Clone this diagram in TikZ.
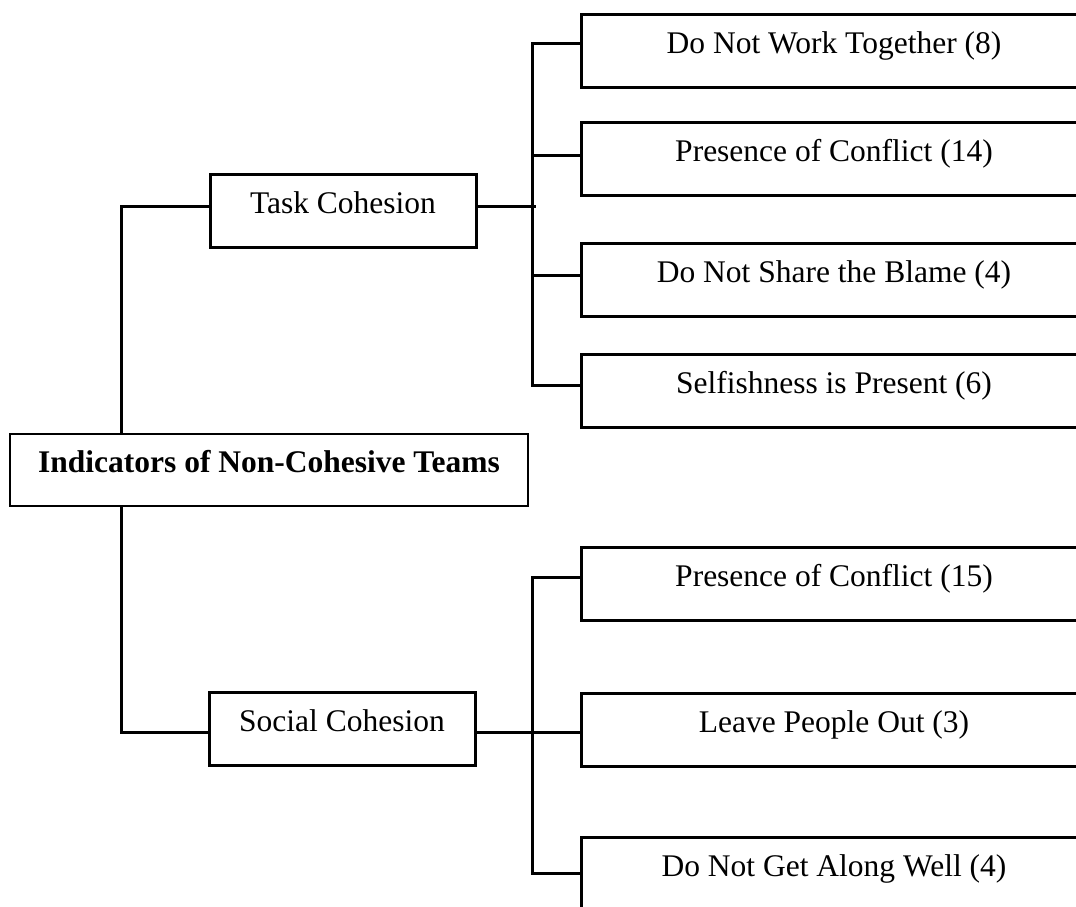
\documentclass[tikz,border=0pt]{standalone}
\usepackage{fontspec}
\setmainfont{Liberation Serif}
\begin{document}
\begin{tikzpicture}[x=1pt,y=-1pt,
  every node/.style={font=\fontsize{31.5}{38}\selectfont, text height=22pt, text depth=17pt},
  box/.style={draw, line width=3pt, rectangle, inner sep=0pt, minimum height=73pt},
  rootbox/.style={draw, line width=1.5pt, rectangle, inner sep=0pt, minimum height=72pt, minimum width=518pt, font=\fontsize{31.5}{38}\selectfont\bfseries},
  midbox/.style={box, minimum width=266pt},
  leafbox/.style={box, minimum width=506pt},
  conn/.style={line width=3pt}]
\useasboundingbox (0,0) rectangle (1076,906);
\clip (0,0) rectangle (1076,906);
\fill[white] (0,0) rectangle (1076,906);
% nodes
\node[rootbox] (root) at (269,470) {Indicators of Non-Cohesive Teams};
\node[midbox] (task) at (343,210.5) {Task Cohesion};
\node[midbox] (social) at (342,728.5) {Social Cohesion};
\node[leafbox] (b1) at (834,50.5) {Do Not Work Together (8)};
\node[leafbox] (b2) at (834,158.5) {Presence of Conflict (14)};
\node[leafbox] (b3) at (834,279.5) {Do Not Share the Blame (4)};
\node[leafbox] (b4) at (834,390.5) {Selfishness is Present (6)};
\node[leafbox] (b5) at (834,583.5) {Presence of Conflict (15)};
\node[leafbox] (b6) at (834,729.5) {Leave People Out (3)};
\node[leafbox] (b7) at (834,873.5) {Do Not Get Along Well (4)};
% connectors from root
\draw[conn] ([xshift=-148pt]root.north) |- ([yshift=4.5pt]task.west);
\draw[conn] ([xshift=-148pt]root.south) |- ([yshift=-3.5pt]social.west);
% task branches
\draw[conn] ([yshift=4.5pt]task.east) -- ++(58,0);
\draw[conn] ([yshift=7.5pt]b1.west) -- ++(-47,0) |- ([yshift=5.5pt]b4.west);
\draw[conn] ([yshift=3.5pt]b2.west) -- ++(-47,0);
\draw[conn] ([yshift=4.5pt]b3.west) -- ++(-47,0);
% social branches
\draw[conn] ([yshift=-3.5pt]social.east) -- ([yshift=-3.5pt]social.east -| b6.west);
\draw[conn] ([yshift=6.5pt]b5.west) -- ++(-47,0) |- (b7.west);
\end{tikzpicture}
\end{document}
